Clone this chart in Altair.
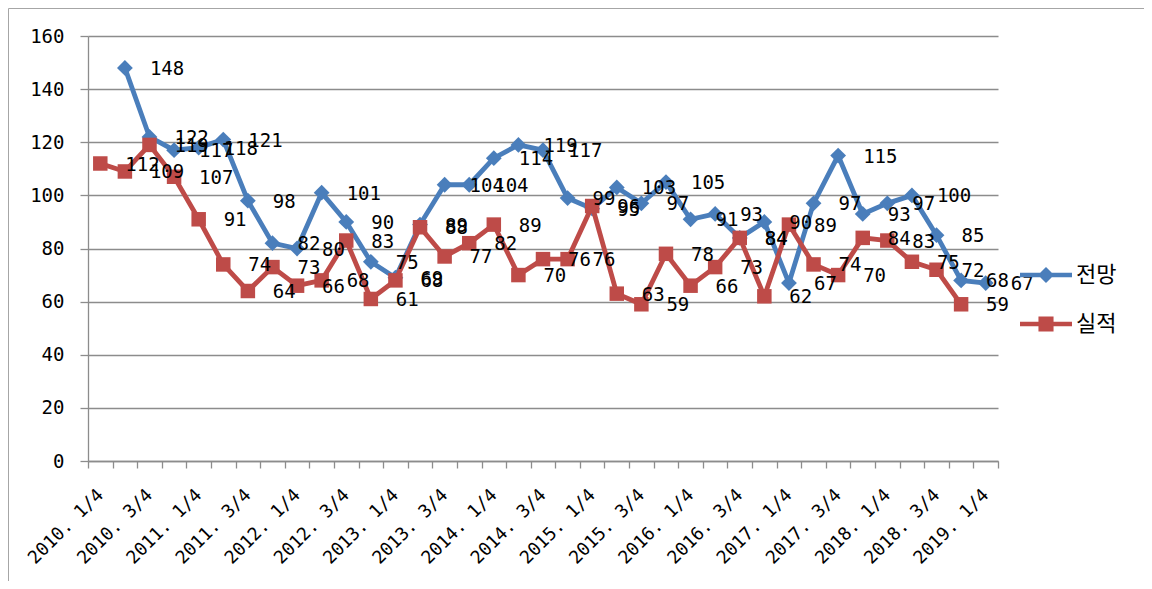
import json
import altair as alt
import pandas as pd

# ---------------- data ----------------
quarters = [f"{y}. {q}/4" for y in range(2010, 2020) for q in range(1, 5)][:37]

forecast = [None, 148, 122, 117, 118, 121, 98, 82, 80, 101, 90, 75, 69, 89, 104, 104,
            114, 119, 117, 99, 95, 103, 97, 105, 91, 93, 84, 90, 67, 97, 115, 93, 97,
            100, 85, 68, 67]
actual = [112, 109, 119, 107, 91, 74, 64, 73, 66, 68, 83, 61, 68, 88, 77, 82, 89, 70,
          76, 76, 96, 63, 59, 78, 66, 73, 84, 62, 89, 74, 70, 84, 83, 75, 72, 59, None]

series_names = ["전망", "실적"]
series_colors = ["#4A7EBB", "#BE4B48"]
y_ticks = [0, 20, 40, 60, 80, 100, 120, 140, 160]

rows = []
for name, vals in zip(series_names, [forecast, actual]):
    for i, v in enumerate(vals):
        if v is not None:
            rows.append({"idx": i, "pos": i + 0.5, "quarter": quarters[i],
                         "series": name, "value": v})
df = pd.DataFrame(rows)

# tick labels at category boundaries (label shown for every 2nd quarter)
tick_labels = [quarters[i] if (i < len(quarters) and i % 2 == 0) else "" for i in range(len(quarters) + 1)]
label_expr = json.dumps(tick_labels) + "[datum.value]"

W, H = 910, 425
band = W / len(quarters)
GRID = "#8C8C8C"
NUM_FONT = "DejaVu Sans Mono"

x_enc = alt.X(
    "pos:Q",
    scale=alt.Scale(domain=[0, len(quarters)], nice=False, zero=False),
    axis=alt.Axis(
        values=list(range(len(quarters) + 1)),
        labelExpr=label_expr,
        labelAngle=315,
        labelAlign="right",
        labelBaseline="middle",
        labelOffset=band / 2,
        labelPadding=24,
        labelFont=NUM_FONT,
        labelFontSize=18,
        labelColor="#000000",
        labelOverlap=False,
        labelFlush=False,
        labelBound=False,
        tickSize=7,
        tickColor=GRID,
        tickWidth=1.3,
        domainColor=GRID,
        domainWidth=1.3,
        grid=False,
        title=None,
    ),
)
y_enc = alt.Y(
    "value:Q",
    scale=alt.Scale(domain=[0, 160], nice=False),
    axis=alt.Axis(
        values=y_ticks,
        grid=True,
        gridColor=GRID,
        gridWidth=1.3,
        tickSize=8,
        tickColor=GRID,
        tickWidth=1.3,
        domainColor=GRID,
        domainWidth=1.3,
        labelFont=NUM_FONT,
        labelFontSize=19,
        labelColor="#000000",
        labelPadding=16,
        title=None,
    ),
)

base = alt.Chart(df).encode(x=x_enc, y=y_enc)

layers = []
marker_shapes = ["diamond", "square"]
marker_sizes = [250, 210]
for name, col, shp, sz in zip(series_names, series_colors, marker_shapes, marker_sizes):
    sub = base.transform_filter(alt.datum.series == name)
    layers.append(sub.mark_line(color=col, strokeWidth=4.8))
    layers.append(sub.mark_point(shape=shp, size=sz, filled=True, color=col, opacity=1))

labels = base.mark_text(
    align="left", baseline="middle", dx=25, dy=1,
    font=NUM_FONT, fontSize=19, color="#000000"
).encode(text=alt.Text("value:Q", format="d"))
layers.append(labels)

# legend (line + marker symbols)
line_part = "M-1,-0.09H1V0.09H-1Z "
legend_paths = [
    line_part + "M0,-0.31L0.31,0L0,0.31L-0.31,0Z",
    line_part + "M-0.29,-0.29H0.29V0.29H-0.29Z",
]
legend_layer = base.transform_filter("datum.value > 100000").mark_point(filled=True).encode(
    color=alt.Color("series:N", scale=alt.Scale(domain=series_names, range=series_colors),
                    legend=alt.Legend(title=None)),
    shape=alt.Shape("series:N", scale=alt.Scale(domain=series_names, range=legend_paths),
                    legend=alt.Legend(title=None)),
)
layers.append(legend_layer)

# outer chart frame
frame = alt.Chart(pd.DataFrame({"f": [0]})).mark_rect(
    fillOpacity=0, stroke="#A6A6A6", strokeWidth=1
).encode(
    x=alt.value(-79.5), x2=alt.value(1080),
    y=alt.value(-27.5), y2=alt.value(548.5),
)
layers.append(frame)

chart = alt.layer(*layers).properties(
    width=W, height=H,
    autosize=alt.AutoSizeParams(type="none"),
    padding={"left": 80, "top": 28, "right": 146, "bottom": 120},
).configure_view(
    strokeWidth=0
).configure_legend(
    orient="none",
    legendX=932,
    legendY=213,
    padding=0,
    symbolSize=2704,
    symbolStrokeWidth=0,
    symbolOpacity=1,
    labelFont="Noto Sans CJK KR",
    labelFontSize=22,
    labelColor="#000000",
    labelOffset=4,
    rowPadding=12,
)

chart.save("out.html", embed_options={"renderer": "svg", "actions": False})
